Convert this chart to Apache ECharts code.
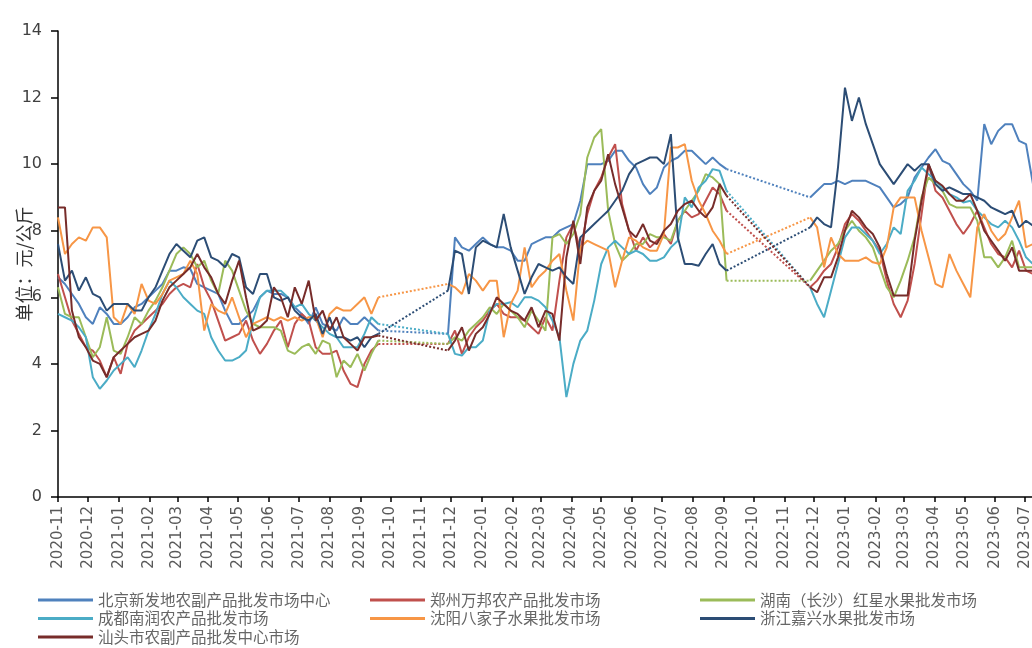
<!DOCTYPE html>
<html>
<head>
<meta charset="utf-8">
<script src="https://cdn.jsdelivr.net/npm/echarts@6/dist/echarts.min.js"></script>
<style>
html,body{margin:0;padding:0;background:#fff;}
#chart{width:1032px;height:648px;}
</style>
</head>
<body>
<div id="chart"></div>
<script>
// Month tick labels (x axis)
const monthLabels = ['2020-11','2020-12','2021-01','2021-02','2021-03','2021-04','2021-05','2021-06','2021-07','2021-08','2021-09','2021-10','2021-11','2021-12','2022-01','2022-02','2022-03','2022-04','2022-05','2022-06','2022-07','2022-08','2022-09','2022-10','2022-11','2022-12','2023-01','2023-02','2023-03','2023-04','2023-05','2023-06','2023-07'];

// Series names
const names = ['北京新发地农副产品批发市场中心','郑州万邦农产品批发市场','湖南（长沙）红星水果批发市场','成都南润农产品批发市场','沈阳八家子水果批发市场','浙江嘉兴水果批发市场','汕头市农副产品批发中心市场'];

// Weekly prices (元/公斤), first week starting 2020-11-01; null = no data
const beijing = [6.6,6.4,6.1,5.8,5.4,5.2,5.7,5.5,5.2,5.2,5.4,5.7,5.8,6.0,6.2,6.4,6.8,6.8,6.9,6.85,6.4,6.3,6.2,6.1,5.6,5.2,5.2,5.4,5.6,6.0,6.2,6.1,6.1,6.0,5.7,5.5,5.2,5.7,5.2,5.1,5.0,5.4,5.2,5.2,5.4,5.2,5.0,
 null,null,null,null,null,null,null,null,null,
 4.9,7.8,7.5,7.4,7.6,7.8,7.6,7.5,7.5,7.4,7.1,7.1,7.6,7.7,7.8,7.8,8.0,8.1,8.2,8.9,10.0,10.0,10.0,10.1,10.4,10.4,10.1,9.9,9.4,9.1,9.3,9.9,10.1,10.2,10.4,10.4,10.2,10.0,10.2,10.0,9.85,
 null,null,null,null,null,null,null,null,null,null,null,
 9.0,9.2,9.4,9.4,9.5,9.4,9.5,9.5,9.5,9.4,9.3,9.0,8.7,8.8,9.0,9.6,9.9,10.2,10.45,10.1,10.0,9.7,9.4,9.2,8.9,11.2,10.6,11.0,11.2,11.2,10.7,10.6,9.4];

const zhengzhou = [6.7,6.0,5.3,4.9,4.5,4.4,4.1,3.6,4.2,3.7,4.6,5.0,5.2,5.4,5.6,5.8,6.1,6.3,6.4,6.3,7.0,6.3,5.9,5.3,4.7,4.8,4.9,5.3,4.7,4.3,4.6,5.0,5.3,4.5,5.2,5.5,5.3,4.5,4.3,4.3,4.4,3.8,3.4,3.3,4.0,4.4,4.6,
 null,null,null,null,null,null,null,null,null,
 4.6,5.0,4.3,4.8,5.1,5.3,5.6,5.8,5.5,5.4,5.4,5.3,5.1,4.9,5.4,5.0,6.5,7.8,8.2,7.4,8.5,9.2,9.6,10.2,10.6,8.8,8.0,7.4,7.8,7.5,7.7,7.9,7.6,8.3,8.6,8.4,8.5,8.9,9.3,9.1,8.6,
 null,null,null,null,null,null,null,null,null,null,null,
 6.3,6.5,6.8,7.0,7.5,8.2,8.5,8.3,8.0,7.7,7.4,6.5,5.8,5.4,5.9,7.0,8.5,10.0,9.2,9.0,8.6,8.2,7.9,8.2,8.6,8.1,7.6,7.3,7.2,6.9,7.4,6.8,6.7];

const hunan = [6.3,5.5,5.4,5.4,4.8,4.2,4.5,5.4,4.4,4.3,4.8,5.4,5.2,5.6,5.9,6.3,6.8,7.3,7.5,7.3,6.9,7.1,6.5,6.1,7.1,6.8,6.2,5.6,5.2,5.1,5.1,5.1,5.0,4.4,4.3,4.5,4.6,4.3,4.7,4.6,3.6,4.1,3.9,4.3,3.8,4.3,4.7,
 null,null,null,null,null,null,null,null,null,
 4.6,4.8,4.7,5.0,5.2,5.4,5.7,5.5,5.8,5.6,5.4,5.1,5.6,5.3,5.0,7.8,7.9,7.6,7.9,8.5,10.2,10.8,11.05,8.6,7.6,7.1,7.3,7.6,7.6,7.9,7.8,7.8,7.7,8.3,8.6,8.9,9.2,9.7,9.6,9.4,6.5,
 null,null,null,null,null,null,null,null,null,null,null,
 6.5,6.8,7.1,7.4,7.6,8.0,8.3,8.0,7.8,7.5,6.9,6.3,6.0,6.5,7.1,7.8,9.0,9.6,9.4,9.2,8.8,8.7,8.7,8.7,8.3,7.2,7.2,6.9,7.2,7.7,6.9,6.9,6.9];

const chengdu = [5.5,5.4,5.3,5.1,4.8,3.6,3.25,3.5,3.8,4.0,4.2,3.9,4.4,5.0,5.5,6.1,6.5,6.3,6.0,5.8,5.6,5.5,4.8,4.4,4.1,4.1,4.2,4.4,5.3,6.0,6.2,6.2,6.2,6.0,5.7,5.8,5.5,5.3,5.1,4.9,4.8,4.5,4.5,4.5,4.9,5.4,5.2,
 null,null,null,null,null,null,null,null,null,
 4.9,4.3,4.25,4.5,4.5,4.7,5.6,5.8,5.8,5.85,5.7,6.0,6.0,5.9,5.7,5.3,4.8,3.0,4.0,4.7,5.0,5.9,7.0,7.5,7.7,7.5,7.3,7.4,7.3,7.1,7.1,7.2,7.5,7.7,9.0,8.7,9.3,9.5,9.85,9.8,9.2,
 null,null,null,null,null,null,null,null,null,null,null,
 6.3,5.8,5.4,6.2,7.0,7.8,8.1,8.1,7.9,7.7,7.3,7.6,8.1,7.9,9.2,9.5,9.9,9.7,9.5,9.3,9.1,9.0,8.85,8.9,8.6,8.4,8.2,8.1,8.3,8.1,7.7,7.2,7.0];

const shenyang = [8.4,7.3,7.6,7.8,7.7,8.1,8.1,7.8,5.4,5.2,5.8,5.5,6.4,5.9,5.8,6.1,6.5,6.6,6.7,7.1,6.7,5.0,5.8,5.6,5.5,6.0,5.4,4.8,5.2,5.3,5.4,5.3,5.4,5.3,5.4,5.3,5.4,5.4,4.8,5.5,5.7,5.6,5.6,5.8,6.0,5.5,6.0,
 null,null,null,null,null,null,null,null,null,
 6.4,6.3,6.1,6.7,6.5,6.2,6.5,6.5,4.8,5.8,6.2,7.5,6.3,6.6,6.8,7.1,7.3,6.2,5.3,7.5,7.7,7.6,7.5,7.4,6.3,7.1,7.8,7.7,7.5,7.4,7.4,7.9,10.5,10.5,10.6,9.5,8.9,8.5,8.0,7.7,7.3,
 null,null,null,null,null,null,null,null,null,null,null,
 8.4,8.1,6.9,7.8,7.3,7.1,7.1,7.1,7.2,7.05,7.0,7.5,8.7,9.0,9.0,9.0,8.0,7.2,6.4,6.3,7.3,6.8,6.4,6.0,8.1,8.5,8.0,7.7,7.9,8.4,8.9,7.5,7.6];

const jiaxing = [7.6,6.5,6.8,6.2,6.6,6.1,6.0,5.6,5.8,5.8,5.8,5.6,5.6,6.0,6.3,6.8,7.3,7.6,7.4,7.2,7.7,7.8,7.2,7.1,6.9,7.3,7.2,6.3,6.1,6.7,6.7,6.0,5.9,6.0,5.6,5.4,5.3,5.5,4.9,5.4,4.8,4.8,4.7,4.8,4.5,4.8,4.9,
 null,null,null,null,null,null,null,null,null,
 6.2,7.4,7.3,6.1,7.5,7.7,7.6,7.5,8.5,7.5,6.8,6.1,6.6,7.0,6.9,6.8,6.9,6.6,6.4,7.8,8.0,8.2,8.4,8.6,8.9,9.2,9.7,10.0,10.1,10.2,10.2,10.0,10.9,7.8,7.0,7.0,6.95,7.3,7.6,7.0,6.8,
 null,null,null,null,null,null,null,null,null,null,null,
 8.1,8.4,8.2,8.1,9.9,12.3,11.3,12.0,11.2,10.6,10.0,9.7,9.4,9.7,10.0,9.8,10.0,10.0,9.4,9.2,9.3,9.2,9.1,9.1,9.0,8.9,8.7,8.6,8.5,8.6,8.1,8.3,8.15];

const shantou = [8.7,8.7,5.6,4.8,4.5,4.1,4.0,3.6,4.2,4.4,4.6,4.8,4.9,5.0,5.3,5.9,6.3,6.5,6.7,6.9,7.3,6.9,6.6,6.1,5.8,6.5,7.1,6.0,5.0,5.1,5.3,6.3,6.0,5.4,6.3,5.8,6.5,5.3,5.6,5.0,5.4,4.8,4.6,4.4,4.8,4.8,4.85,
 null,null,null,null,null,null,null,null,null,
 4.4,4.7,5.1,4.4,4.9,5.1,5.5,6.0,5.8,5.6,5.5,5.3,5.7,5.1,5.6,5.5,4.7,7.2,8.3,7.0,8.7,9.2,9.5,10.3,9.4,8.7,8.0,7.8,8.2,7.7,7.6,8.0,8.2,8.6,8.8,8.9,8.6,8.4,8.7,9.4,9.05,
 null,null,null,null,null,null,null,null,null,null,null,
 6.3,6.15,6.6,6.6,7.2,8.0,8.6,8.4,8.1,7.9,7.5,6.7,6.05,6.05,6.05,7.7,8.9,10.0,9.5,9.35,9.1,8.9,8.9,9.1,8.6,8.0,7.7,7.4,7.1,7.5,6.8,6.8,6.8];

const colors = ['#4f81bd','#c0504d','#9bbb59','#4bacc6','#f79646','#2c4d75','#772c2a'];
const priceLists = [beijing, zhengzhou, hunan, chengdu, shenyang, jiaxing, shantou];

// day offsets from 2020-11-01
const DAY = 86400000;
const origin = Date.UTC(2020, 10, 1);
const monthDays = monthLabels.map(s => {
  const [y, m] = s.split('-').map(Number);
  return Math.round((Date.UTC(y, m - 1, 1) - origin) / DAY);
});
const labelOf = {};
monthDays.forEach((d, k) => { labelOf[d] = monthLabels[k]; });

function solidData(vals) {
  return vals.map((v, i) => [7 * i, v == null ? '-' : v]);
}
function gapData(vals) {
  const out = [];
  let last = -1;
  for (let i = 0; i < vals.length; i++) {
    if (vals[i] == null) continue;
    if (last >= 0 && i - last > 1) {
      if (out.length) out.push([7 * last, '-']);
      out.push([7 * last, vals[last]], [7 * i, vals[i]]);
    }
    last = i;
  }
  return out;
}

const series = [];
priceLists.forEach((vals, k) => {
  series.push({
    name: names[k], type: 'line', data: solidData(vals), showSymbol: false, symbol: 'none',
    lineStyle: { width: 2, color: colors[k] }, itemStyle: { color: colors[k] }, z: 2 + k
  });
});
priceLists.forEach((vals, k) => {
  series.push({
    name: names[k], type: 'line', data: gapData(vals), showSymbol: false, symbol: 'none',
    lineStyle: { width: 2, type: 'dotted', color: colors[k] }, itemStyle: { color: colors[k] }, z: 1
  });
});

const legendBase = {
  orient: 'vertical', icon: 'rect', itemWidth: 55, itemHeight: 3, itemGap: 2.5, padding: 0,
  textStyle: { fontSize: 15.5, color: '#666', lineHeight: 16, fontFamily: 'Noto Sans CJK SC' }
};

const chart = echarts.init(document.getElementById('chart'), null, { renderer: 'canvas' });
chart.setOption({
  animation: false,
  color: colors,
  grid: { left: 58, right: 0, top: 31, bottom: 151, containLabel: false, outerBoundsMode: 'none' },
  legend: [
    Object.assign({}, legendBase, { left: 38, top: 592, data: [names[0], names[3], names[6]] }),
    Object.assign({}, legendBase, { left: 370, top: 592, data: [names[1], names[4]] }),
    Object.assign({}, legendBase, { left: 700, top: 592, data: [names[2], names[5]] })
  ],
  xAxis: {
    type: 'value', min: 0, max: 979,
    axisLine: { lineStyle: { color: '#000', width: 1.5 } },
    axisTick: { show: true, customValues: monthDays, length: 5, lineStyle: { color: '#000', width: 1.5 } },
    axisLabel: {
      customValues: monthDays, rotate: 90, margin: 9, fontSize: 15, color: '#595959',
      fontFamily: 'DejaVu Sans',
      formatter: v => labelOf[Math.round(v)] || ''
    },
    splitLine: { show: false }
  },
  yAxis: {
    type: 'value', min: 0, max: 14, interval: 2,
    name: '单位：元/公斤', nameLocation: 'middle', nameRotate: 90, nameGap: 25, nameMoveOverlap: false,
    nameTextStyle: { fontSize: 18, color: '#333', fontFamily: 'Noto Sans CJK SC' },
    axisLine: { show: true, lineStyle: { color: '#000', width: 1.5 } },
    axisTick: { show: true, length: 7, lineStyle: { color: '#000', width: 1.5 } },
    axisLabel: { fontSize: 16, color: '#404040', margin: 16, fontFamily: 'DejaVu Sans' },
    splitLine: { show: false }
  },
  series: series
});
</script>
</body>
</html>
